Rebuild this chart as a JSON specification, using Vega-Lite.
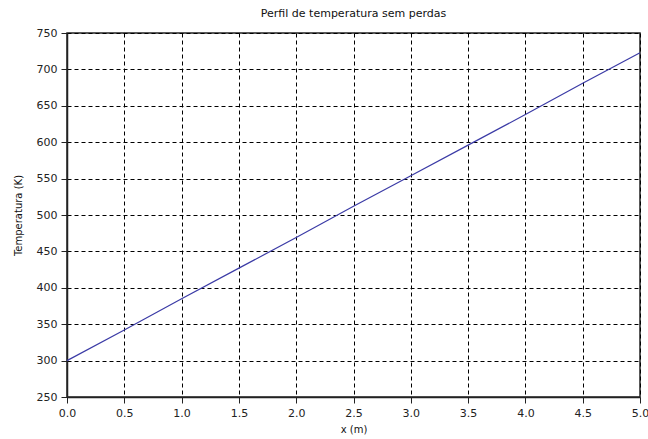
{
  "$schema": "https://vega.github.io/schema/vega-lite/v6.json",
  "autosize": {"type": "none"},
  "width": 573,
  "height": 364,
  "padding": {"left": 67, "top": 33, "right": 8, "bottom": 42},
  "background": "white",
  "title": {"text": "Perfil de temperatura sem perdas", "fontSize": 11, "font": "DejaVu Sans", "fontWeight": 500, "color": "#111", "offset": 8},
  "data": {"values": [
    {"x": 0.0, "T": 300},
    {"x": 0.5, "T": 342},
    {"x": 1.0, "T": 385},
    {"x": 1.5, "T": 427},
    {"x": 2.0, "T": 469},
    {"x": 2.5, "T": 512},
    {"x": 3.0, "T": 554},
    {"x": 3.5, "T": 596},
    {"x": 4.0, "T": 638},
    {"x": 4.5, "T": 681},
    {"x": 5.0, "T": 723}
  ]},
  "config": {
    "view": {"stroke": "#222", "strokeWidth": 1.5},
    "axis": {
      "labelFont": "DejaVu Sans", "labelFontSize": 11, "labelColor": "#222",
      "titleFont": "DejaVu Sans", "titleFontSize": 10, "titleColor": "#111", "titleFontWeight": "normal",
      "domainColor": "#222", "tickColor": "#222", "tickSize": 6, "domainWidth": 1.5,
      "gridColor": "#000", "gridDash": [4, 3], "gridWidth": 1, "gridOpacity": 1
    }
  },
  "mark": {"type": "line", "color": "#3b3ba6", "strokeWidth": 1.2},
  "encoding": {
    "x": {"field": "x", "type": "quantitative", "title": "x (m)",
      "scale": {"domain": [0, 5], "nice": false, "zero": false},
      "axis": {"values": [0, 0.5, 1, 1.5, 2, 2.5, 3, 3.5, 4, 4.5, 5], "format": ".1f", "labelPadding": 4, "titlePadding": 6, "labelFlush": false}},
    "y": {"field": "T", "type": "quantitative", "title": "Temperatura (K)",
      "scale": {"domain": [250, 750], "nice": false, "zero": false},
      "axis": {"values": [250, 300, 350, 400, 450, 500, 550, 600, 650, 700, 750], "labelPadding": 4, "titlePadding": 13, "labelFlush": false}}
  }
}
